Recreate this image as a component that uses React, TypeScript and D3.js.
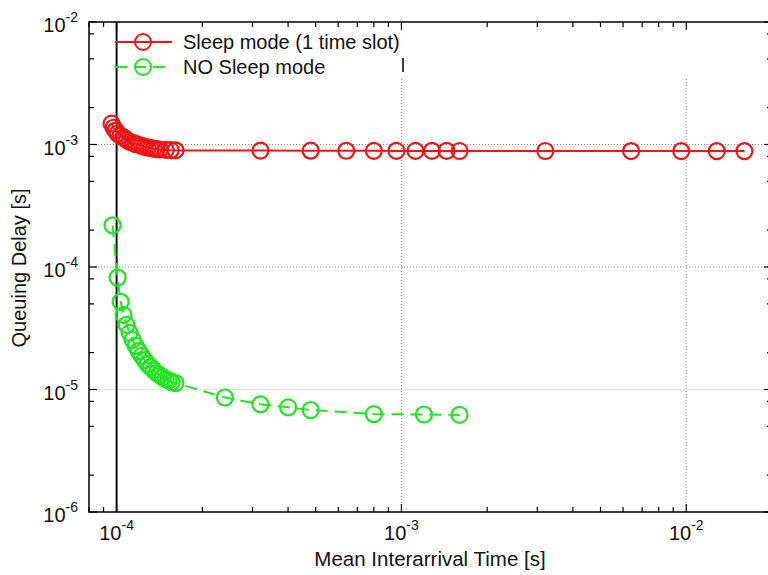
import React, { useEffect, useRef } from 'react';
import * as d3 from 'd3';

// Sleep mode (1 time slot)
const sleepX = [9.6e-5, 9.76e-5, 9.92e-5, 1.008e-4, 1.033e-4, 1.058e-4, 1.084e-4, 1.111e-4, 1.138e-4, 1.166e-4, 1.195e-4,
  1.224e-4, 1.254e-4, 1.285e-4, 1.317e-4, 1.349e-4, 1.382e-4, 1.416e-4, 1.487e-4, 1.548e-4, 1.61e-4,
  3.2e-4, 4.8e-4, 6.4e-4, 8.0e-4, 9.6e-4, 1.12e-3, 1.28e-3, 1.44e-3, 1.6e-3, 3.2e-3, 6.4e-3, 9.6e-3, 1.28e-2, 1.6e-2];
const sleepY = [1.48e-3, 1.37e-3, 1.3e-3, 1.23e-3, 1.18e-3, 1.14e-3, 1.09e-3, 1.05e-3, 1.03e-3, 1.01e-3, 9.95e-4,
  9.77e-4, 9.58e-4, 9.45e-4, 9.35e-4, 9.25e-4, 9.18e-4, 9.1e-4, 9.03e-4, 8.98e-4, 8.95e-4,
  8.92e-4, 8.9e-4, 8.89e-4, 8.88e-4, 8.87e-4, 8.87e-4, 8.86e-4, 8.86e-4, 8.85e-4, 8.85e-4, 8.84e-4, 8.84e-4, 8.83e-4, 8.83e-4];

// NO Sleep mode
const noSleepX = [9.68e-5, 1.008e-4, 1.033e-4, 1.058e-4, 1.084e-4, 1.111e-4, 1.138e-4, 1.166e-4, 1.195e-4, 1.224e-4,
  1.254e-4, 1.285e-4, 1.317e-4, 1.349e-4, 1.382e-4, 1.416e-4, 1.451e-4, 1.487e-4, 1.523e-4, 1.561e-4, 1.61e-4,
  2.4e-4, 3.2e-4, 4.0e-4, 4.8e-4, 8.0e-4, 1.2e-3, 1.6e-3];
const noSleepY = [2.19e-4, 8.2e-5, 5.2e-5, 4.07e-5, 3.37e-5, 2.9e-5, 2.54e-5, 2.27e-5, 2.06e-5, 1.88e-5,
  1.74e-5, 1.61e-5, 1.52e-5, 1.44e-5, 1.36e-5, 1.31e-5, 1.26e-5, 1.21e-5, 1.19e-5, 1.15e-5, 1.13e-5,
  8.6e-6, 7.57e-6, 7.15e-6, 6.8e-6, 6.3e-6, 6.25e-6, 6.2e-6];

const xMajor = [1e-4, 1e-3, 1e-2];
const xMajorLabels = ['-4', '-3', '-2'];
const yMajor = [1e-6, 1e-5, 1e-4, 1e-3, 1e-2];
const yMajorLabels = ['-6', '-5', '-4', '-3', '-2'];
const yMinorMult = [2, 5, 8];

const RED = '#f21414';
const GREEN = '#1ee61e';
const FONT = '"Liberation Sans", Arial, Helvetica, sans-serif';

export default function App() {
  const ref = useRef<SVGSVGElement>(null);

  useEffect(() => {
    const svg = d3.select(ref.current);
    svg.selectAll('*').remove();

    const x = d3.scaleLog().domain([8e-5, 2e-2]).range([89, 772]);
    const y = d3.scaleLog().domain([1e-6, 1e-2]).range([512, 22]);
    const [x0, x1] = x.range();
    const [y0, y1] = y.range();

    // grid
    const grid = svg.append('g');
    grid.selectAll('line.gx')
      .data(xMajor.slice(1))
      .enter().append('line')
      .attr('x1', d => x(d)).attr('x2', d => x(d))
      .attr('y1', y0).attr('y2', y1)
      .attr('stroke', '#888').attr('stroke-width', 1).attr('stroke-dasharray', '1,2');
    grid.selectAll('line.gy')
      .data([1e-3, 1e-4])
      .enter().append('line')
      .attr('x1', x0).attr('x2', x1)
      .attr('y1', d => y(d)).attr('y2', d => y(d))
      .attr('stroke', '#888').attr('stroke-width', 1).attr('stroke-dasharray', '1,2');
    grid.append('line')
      .attr('x1', x0).attr('x2', x1)
      .attr('y1', y(1e-5)).attr('y2', y(1e-5))
      .attr('stroke', '#e4e4e4').attr('stroke-width', 1);

    // white band behind legend hides top of gridlines
    svg.append('rect')
      .attr('x', x0 + 1).attr('y', y1 + 1)
      .attr('width', x1 - x0 - 2).attr('height', 54)
      .attr('fill', '#fff');
    svg.append('line')
      .attr('x1', 403).attr('x2', 403).attr('y1', 58).attr('y2', 72)
      .attr('stroke', '#000').attr('stroke-width', 1.5);

    // dark line at 10^-4
    svg.append('line')
      .attr('x1', x(1e-4)).attr('x2', x(1e-4))
      .attr('y1', y0).attr('y2', y1)
      .attr('stroke', '#111').attr('stroke-width', 2);

    // frame
    svg.append('rect')
      .attr('x', x0).attr('y', y1)
      .attr('width', x1 - x0).attr('height', y0 - y1)
      .attr('fill', 'none').attr('stroke', '#000').attr('stroke-width', 1.5);

    // ticks
    const ticks = svg.append('g').attr('stroke', '#000').attr('stroke-width', 1.2);
    const xt = x.ticks();
    xt.forEach(v => {
      const major = xMajor.some(m => Math.abs(m - v) / m < 1e-6);
      const len = major ? 8 : 5;
      ticks.append('line').attr('x1', x(v)).attr('x2', x(v)).attr('y1', y0).attr('y2', y0 - len);
      ticks.append('line').attr('x1', x(v)).attr('x2', x(v)).attr('y1', y1).attr('y2', y1 + len);
    });
    const yt: number[] = [];
    yMajor.forEach(m => {
      yt.push(m);
      yMinorMult.forEach(k => { if (m * k < 1e-2) yt.push(m * k); });
    });
    yt.forEach(v => {
      const major = yMajor.some(m => Math.abs(m - v) / m < 1e-6);
      const len = major ? 8 : 5;
      ticks.append('line').attr('x1', x0).attr('x2', x0 + len).attr('y1', y(v)).attr('y2', y(v));
      ticks.append('line').attr('x1', x1).attr('x2', x1 - len).attr('y1', y(v)).attr('y2', y(v));
    });

    // tick labels
    xMajor.forEach((v, i) => {
      const t = svg.append('text')
        .attr('x', x(v)).attr('y', 540)
        .attr('text-anchor', 'middle')
        .attr('font-family', FONT).attr('font-size', 20).attr('fill', '#111');
      t.append('tspan').text('10');
      t.append('tspan').attr('dy', -10).attr('font-size', 14).text(xMajorLabels[i]);
    });
    yMajor.forEach((v, i) => {
      const t = svg.append('text')
        .attr('x', 78).attr('y', y(v) + 10)
        .attr('text-anchor', 'end')
        .attr('font-family', FONT).attr('font-size', 20).attr('fill', '#111');
      t.append('tspan').text('10');
      t.append('tspan').attr('dy', -10).attr('font-size', 14).text(yMajorLabels[i]);
    });

    // axis titles
    svg.append('text')
      .attr('x', 430).attr('y', 566)
      .attr('text-anchor', 'middle')
      .attr('font-family', FONT).attr('font-size', 20.5).attr('fill', '#111')
      .text('Mean Interarrival Time [s]');
    svg.append('text')
      .attr('transform', 'translate(26,268) rotate(-90)')
      .attr('text-anchor', 'middle')
      .attr('font-family', FONT).attr('font-size', 20).attr('fill', '#111')
      .text('Queuing Delay [s]');

    // series
    const series = [
      { xs: sleepX, ys: sleepY, color: RED, dash: null },
      { xs: noSleepX, ys: noSleepY, color: GREEN, dash: '12,7' },
    ];
    const line = d3.line<[number, number]>().x(d => x(d[0])).y(d => y(d[1]));
    series.forEach(s => {
      const pts: [number, number][] = s.xs.map((v, i) => [v, s.ys[i]]);
      svg.append('path')
        .attr('d', line(pts))
        .attr('fill', 'none').attr('stroke', s.color).attr('stroke-width', 2)
        .attr('stroke-dasharray', s.dash);
      svg.append('g').selectAll('circle')
        .data(pts)
        .enter().append('circle')
        .attr('cx', d => x(d[0])).attr('cy', d => y(d[1]))
        .attr('r', 8)
        .attr('fill', 'none').attr('stroke', s.color).attr('stroke-width', 2.2);
    });

    // legend
    const legend = [
      { label: 'Sleep mode (1 time slot)', color: RED, dash: null, y: 42 },
      { label: 'NO Sleep mode', color: GREEN, dash: '12,7', y: 67 },
    ];
    legend.forEach(l => {
      svg.append('line')
        .attr('x1', 115).attr('x2', 172).attr('y1', l.y).attr('y2', l.y)
        .attr('stroke', l.color).attr('stroke-width', 2).attr('stroke-dasharray', l.dash);
      svg.append('circle')
        .attr('cx', 143).attr('cy', l.y).attr('r', 8)
        .attr('fill', 'none').attr('stroke', l.color).attr('stroke-width', 2);
      svg.append('text')
        .attr('x', 183).attr('y', l.y + 7)
        .attr('font-family', FONT).attr('font-size', 20).attr('fill', '#111')
        .text(l.label);
    });
  }, []);

  return (
    <svg ref={ref} width={768} height={575}
      style={{ position: 'absolute', left: 0, top: 0, background: '#fff' }} />
  );
}
